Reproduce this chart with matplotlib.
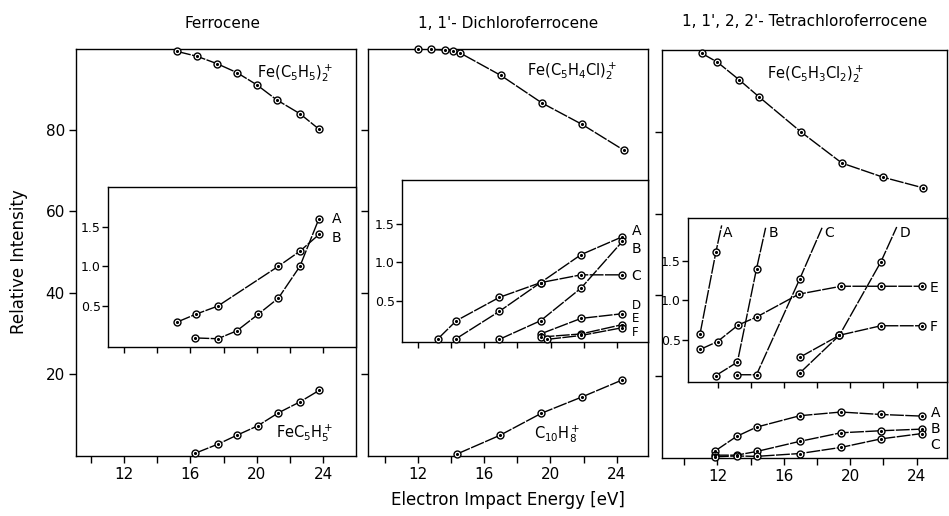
import matplotlib
matplotlib.use("Agg")
import matplotlib.pyplot as plt
from matplotlib.ticker import FixedLocator, NullFormatter

# ---------------- data ----------------
# Panel 1: Ferrocene
p1_parent_x = [15.2, 16.4, 17.6, 18.8, 20.0, 21.2, 22.6, 23.75]
p1_parent = [99.3, 98.1, 96.3, 94.1, 91.1, 87.4, 84.0, 80.2]
p1_frag_x = [16.3, 17.65, 18.8, 20.05, 21.3, 22.6, 23.75]
p1_frag = [0.6, 2.8, 5.0, 7.3, 10.5, 13.2, 16.0]
p1_inA_x = [16.3, 17.65, 18.8, 20.1, 21.3, 22.6, 23.75]
p1_inA = [0.10, 0.09, 0.19, 0.40, 0.60, 1.00, 1.60]
p1_inB_x = [15.2, 16.35, 17.65, 21.3, 22.6, 23.75]
p1_inB = [0.30, 0.40, 0.50, 1.00, 1.19, 1.40]

# Panel 2: 1,1'-Dichloroferrocene
p2_parent_x = [12.0, 12.8, 13.6, 14.1, 14.5, 17.0, 19.5, 21.9, 24.45]
p2_parent = [99.9, 99.8, 99.6, 99.4, 99.0, 93.4, 86.6, 81.4, 75.0]
p2_frag_x = [14.35, 16.95, 19.45, 21.9, 24.35]
p2_frag = [0.4, 5.0, 10.4, 14.4, 18.6]
p2_inA_x = [14.3, 16.9, 19.4, 21.85, 24.35]
p2_inA = [0.02, 0.37, 0.74, 1.10, 1.33]
p2_inB_x = [16.9, 19.4, 21.85, 24.35]
p2_inB = [0.01, 0.25, 0.67, 1.27]
p2_inC_x = [13.2, 14.3, 16.9, 19.4, 21.85, 24.35]
p2_inC = [0.02, 0.25, 0.55, 0.74, 0.84, 0.84]
p2_inD_x = [19.4, 21.85, 24.35]
p2_inD = [0.08, 0.28, 0.34]
p2_inE_x = [19.4, 21.85, 24.35]
p2_inE = [0.04, 0.08, 0.20]
p2_inF_x = [19.8, 21.85, 24.35]
p2_inF = [0.01, 0.06, 0.16]

# Panel 3: 1,1',2,2'-Tetrachloroferrocene
p3_parent_x = [11.05, 12.0, 13.3, 14.5, 17.05, 19.5, 22.0, 24.4]
p3_parent = [99.4, 97.2, 92.9, 88.7, 80.0, 72.4, 68.9, 66.3]
p3_frag_x = [11.85, 13.15, 14.36, 16.97, 19.44, 21.85, 24.3]
p3_fragA = [1.6, 5.2, 7.5, 10.3, 11.2, 10.6, 10.2]
p3_fragB = [0.6, 0.6, 1.5, 4.0, 6.1, 6.6, 7.0]
p3_fragC = [0.2, 0.4, 0.3, 1.0, 2.5, 4.6, 5.9]
p3_inA_x = [10.95, 11.9]
p3_inA = [0.58, 1.61]
p3_inA_tail = (12.25, 1.95)
p3_inB_x = [11.9, 13.2, 14.35]
p3_inB = [0.05, 0.22, 1.40]
p3_inB_tail = (14.9, 1.92)
p3_inC_x = [13.2, 14.35, 16.95]
p3_inC = [0.06, 0.06, 1.27]
p3_inC_tail = (18.3, 1.92)
p3_inD_x = [16.95, 19.35, 21.85]
p3_inD = [0.08, 0.56, 1.49]
p3_inD_tail = (22.8, 1.93)
p3_inE_x = [10.95, 12.0, 13.25, 14.35, 16.9, 19.45, 21.85, 24.35]
p3_inE = [0.38, 0.48, 0.69, 0.79, 1.08, 1.18, 1.18, 1.18]
p3_inF_x = [16.95, 19.35, 21.85, 24.35]
p3_inF = [0.28, 0.56, 0.68, 0.68]

main_yticks = [20, 40, 60, 80]
main_yticklabels = ["20", "40", "60", "80"]
x_major = [12, 16, 20, 24]
x_minor = [10, 14, 18, 22]
inset_xticks = [12, 14, 16, 18, 20, 22, 24]
inset_yticks = [0.5, 1.0, 1.5]
inset_yticklabels = ["0.5", "1.0", "1.5"]

titles = ["Ferrocene", "1, 1'- Dichloroferrocene", "1, 1', 2, 2'- Tetrachloroferrocene"]

# ---------------- figure ----------------
W, H = 949, 516
plt.rcParams['font.family'] = ['DejaVu Sans']
fig = plt.figure(figsize=(W / 100, H / 100), dpi=100)


def rect(l, t, r, b):
    return [l / W, 1 - b / H, (r - l) / W, (b - t) / H]


def ftext(px, py, s, **kw):
    fig.text(px / W, 1 - py / H, s, **kw)


LS = (0, (10, 1.0))


def series(ax, x, y, tail=None, clip=True):
    xs, ys = list(x), list(y)
    if tail is not None:
        xs.append(tail[0]); ys.append(tail[1])
    ax.plot(xs, ys, color='black', lw=1.0, ls=LS, zorder=3, clip_on=clip)
    ax.plot(x, y, ls='none', marker='o', ms=5.0, mfc='white', mec='black', mew=1.0,
            zorder=4, clip_on=False)
    ax.plot(x, y, ls='none', marker='.', ms=2.5, color='black', zorder=5, clip_on=False)


def style_main(ax, xlim, ylim, labels):
    ax.set_xlim(*xlim)
    ax.set_ylim(*ylim)
    ax.xaxis.set_major_locator(FixedLocator(x_major))
    ax.xaxis.set_minor_locator(FixedLocator(x_minor))
    ax.set_xticklabels([str(v) for v in x_major])
    ax.yaxis.set_major_locator(FixedLocator(main_yticks))
    if labels:
        ax.set_yticklabels(main_yticklabels)
    else:
        ax.yaxis.set_major_formatter(NullFormatter())
    ax.tick_params(axis='both', which='both', direction='out', length=5, width=1.0,
                   labelsize=11, pad=3)
    for s in ax.spines.values():
        s.set_linewidth(1.0)


def style_inset(ax, xlim, ylim):
    ax.set_xlim(*xlim)
    ax.set_ylim(*ylim)
    ax.set_xticks(inset_xticks)
    ax.xaxis.set_major_formatter(NullFormatter())
    ax.set_yticks(inset_yticks)
    ax.set_yticklabels(inset_yticklabels)
    ax.tick_params(axis='both', direction='out', length=4, width=1.0, labelsize=9, pad=1.5)
    ax.set_facecolor('white')
    for s in ax.spines.values():
        s.set_linewidth(1.0)


# ---- Panel 1 ----
ax1 = fig.add_axes(rect(76, 49, 356, 456))
style_main(ax1, (9.1, 25.98), (-0.1, 99.9), True)
series(ax1, p1_parent_x, p1_parent)
series(ax1, p1_frag_x, p1_frag)
ax1.text(22.3, 94.0, r'Fe(C$_5$H$_5$)$_2^+$', ha='center', va='center', fontsize=10.5)
ax1.text(22.9, 5.5, r'FeC$_5$H$_5^+$', ha='center', va='center', fontsize=10.5)

in1 = fig.add_axes(rect(108.3, 186.7, 355.5, 346.7))
in1.set_zorder(5)
style_inset(in1, (11.05, 25.95), (-0.01, 2.0))
series(in1, p1_inA_x, p1_inA)
series(in1, p1_inB_x, p1_inB)
in1.text(24.5, 1.60, 'A', ha='left', va='center', fontsize=10)
in1.text(24.5, 1.36, 'B', ha='left', va='center', fontsize=10)

# ---- Panel 2 ----
ax2 = fig.add_axes(rect(368, 49, 648, 456))
style_main(ax2, (8.96, 25.9), (-0.1, 99.9), False)
series(ax2, p2_parent_x, p2_parent)
series(ax2, p2_frag_x, p2_frag)
ax2.text(21.3, 94.5, r'Fe(C$_5$H$_4$Cl)$_2^+$', ha='center', va='center', fontsize=10.5)
ax2.text(20.4, 5.3, r'C$_{10}$H$_8^+$', ha='center', va='center', fontsize=10.5)

in2 = fig.add_axes(rect(402.3, 180, 647.5, 341.7))
in2.set_zorder(5)
style_inset(in2, (11.03, 25.87), (-0.02, 2.06))
for xs, ys in [(p2_inA_x, p2_inA), (p2_inB_x, p2_inB), (p2_inC_x, p2_inC),
               (p2_inD_x, p2_inD), (p2_inE_x, p2_inE), (p2_inF_x, p2_inF)]:
    series(in2, xs, ys)
in2.text(24.9, 1.40, 'A', ha='left', va='center', fontsize=10)
in2.text(24.9, 1.17, 'B', ha='left', va='center', fontsize=10)
in2.text(24.9, 0.82, 'C', ha='left', va='center', fontsize=10)
in2.text(24.9, 0.45, 'D', ha='left', va='center', fontsize=8.5)
in2.text(24.9, 0.28, 'E', ha='left', va='center', fontsize=8.5)
in2.text(24.9, 0.10, 'F', ha='left', va='center', fontsize=8.5)

# ---- Panel 3 ----
ax3 = fig.add_axes(rect(662, 50, 947, 458))
style_main(ax3, (8.66, 25.83), (-0.1, 100.2), False)
series(ax3, p3_parent_x, p3_parent)
series(ax3, p3_frag_x, p3_fragA)
series(ax3, p3_frag_x, p3_fragB)
series(ax3, p3_frag_x, p3_fragC)
ax3.text(17.9, 94.3, r'Fe(C$_5$H$_3$Cl$_2$)$_2^+$', ha='center', va='center', fontsize=10.5)
ax3.text(24.85, 11.0, 'A', ha='left', va='center', fontsize=10)
ax3.text(24.85, 7.0, 'B', ha='left', va='center', fontsize=10)
ax3.text(24.85, 3.2, 'C', ha='left', va='center', fontsize=10)

in3 = fig.add_axes(rect(688.3, 218.3, 946.5, 381.7))
in3.set_zorder(5)
style_inset(in3, (10.24, 25.8), (-0.028, 2.04))
series(in3, p3_inA_x, p3_inA, p3_inA_tail)
series(in3, p3_inB_x, p3_inB, p3_inB_tail)
series(in3, p3_inC_x, p3_inC, p3_inC_tail)
series(in3, p3_inD_x, p3_inD, p3_inD_tail)
series(in3, p3_inE_x, p3_inE)
series(in3, p3_inF_x, p3_inF)
in3.text(12.35, 1.85, 'A', ha='left', va='center', fontsize=10)
in3.text(15.1, 1.85, 'B', ha='left', va='center', fontsize=10)
in3.text(18.45, 1.85, 'C', ha='left', va='center', fontsize=10)
in3.text(22.95, 1.85, 'D', ha='left', va='center', fontsize=10)
in3.text(24.8, 1.16, 'E', ha='left', va='center', fontsize=10)
in3.text(24.8, 0.67, 'F', ha='left', va='center', fontsize=10)

# ---- titles and axis labels ----
ftext(222, 23, titles[0], ha='center', va='center', fontsize=11)
ftext(508, 23, titles[1], ha='center', va='center', fontsize=11)
ftext(805, 21, titles[2], ha='center', va='center', fontsize=11)
ftext(508, 500, 'Electron Impact Energy [eV]', ha='center', va='center', fontsize=12)
ftext(19, 262, 'Relative Intensity', ha='center', va='center', rotation=90, fontsize=12)

fig.savefig('out.png', dpi=100, facecolor='white')
